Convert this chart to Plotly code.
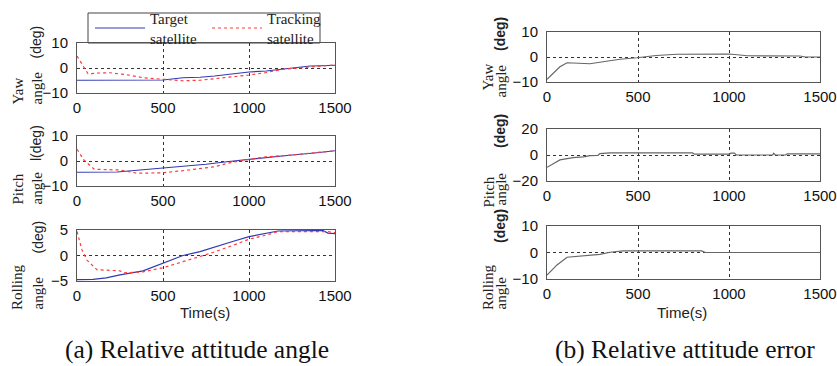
import plotly.graph_objects as go

W, H = 837, 366

# ---------------- data ----------------
# (a) Relative attitude angle
yaw_tgt_t = [0, 100, 210, 400, 500, 616, 715, 800, 907, 1000, 1100, 1198, 1300, 1355, 1420, 1500]
yaw_tgt_v = [-4.9, -4.9, -5.0, -4.9, -4.8, -3.9, -3.7, -3.2, -2.3, -1.6, -1.2, -0.5, 0.2, 0.8, 0.9, 1.1]
yaw_trk_t = [0, 29, 64, 130, 192, 300, 384, 500, 616, 715, 773, 907, 1000, 1100, 1198, 1355, 1500]
yaw_trk_v = [4.8, 1.5, -2.3, -2.0, -1.9, -2.8, -3.9, -4.5, -5.1, -4.9, -4.5, -3.6, -2.8, -1.8, -0.5, 0.4, 1.2]

pitch_tgt_t = [0, 232, 350, 500, 620, 750, 870, 1000, 1100, 1250, 1380, 1500]
pitch_tgt_v = [-4.5, -4.4, -3.7, -2.9, -2.1, -1.3, -0.3, 0.7, 1.5, 2.4, 3.2, 4.1]
pitch_trk_t = [0, 40, 100, 250, 350, 500, 650, 800, 900, 1000, 1100, 1250, 1380, 1500]
pitch_trk_v = [4.7, 0.4, -3.3, -3.6, -4.9, -4.7, -3.6, -2.3, -0.5, 0.7, 1.7, 2.4, 3.2, 4.1]

roll_tgt_t = [0, 93, 170, 250, 384, 500, 616, 715, 773, 900, 1000, 1100, 1169, 1430, 1459, 1500]
roll_tgt_v = [-4.75, -4.7, -4.4, -3.8, -3.0, -1.5, 0.0, 0.75, 1.4, 2.7, 3.7, 4.3, 4.8, 4.9, 4.4, 4.3]
roll_trk_t = [0, 29, 58, 116, 250, 267, 384, 500, 616, 773, 900, 1000, 1100, 1169, 1450, 1500]
roll_trk_v = [4.7, 1.1, -0.9, -2.8, -3.0, -3.4, -3.2, -2.4, -1.2, 0.4, 1.9, 3.2, 4.0, 4.7, 4.7, 4.5]

# (b) Relative attitude error
yaw_err_t = [0, 33, 71, 110, 236, 308, 401, 494, 600, 714, 1000, 1060, 1099, 1390, 1420, 1500]
yaw_err_v = [-8.9, -6.5, -3.9, -2.3, -2.7, -1.9, -0.9, -0.3, 0.6, 1.1, 1.2, 0.8, 0.5, 0.4, 0.0, 0.0]

pitch_err_t = [0, 40, 71, 143, 200, 236, 280, 290, 346, 800, 810, 1000, 1010, 1030, 1040, 1240, 1245, 1255, 1310, 1320, 1500]
pitch_err_v = [-9.5, -6.5, -3.8, -2.0, -1.5, -0.5, -0.3, 1.0, 1.6, 1.6, 0.6, 0.6, 1.4, 1.4, 0.0, 0.0, 1.4, 0.0, 0.0, 0.8, 0.8]

roll_err_t = [0, 55, 110, 236, 291, 346, 418, 850, 870, 1500]
roll_err_v = [-8.5, -4.7, -1.8, -1.2, -0.7, 0.1, 0.6, 0.6, 0.0, 0.0]

x_ticks = [0, 500, 1000, 1500]
names = ["Target<br>satellite", "Tracking<br>satellite"]
captions = ["(a) Relative attitude angle", "(b) Relative attitude error"]

# ---------------- layout helpers ----------------
def px_x(x):
    return x / W

def px_y(y):
    return 1 - y / H

SANS = "Liberation Sans, Arial, sans-serif"
SERIF = "Liberation Serif, Times New Roman, serif"

BLUE = "#3239b4"
RED = "#ff3b3b"
GRAY = "#555555"

panels = [
    # (axis id, x0, x1, top px, bottom px, yrange, ytickvals)
    ("", 77, 335, 43, 93, [-10, 10], [-10, 0, 10]),
    ("2", 77, 335, 136, 186, [-10, 10], [-10, 0, 10]),
    ("3", 77, 335, 230, 281, [-5, 5], [-5, 0, 5]),
    ("4", 547, 820, 32, 82, [-10, 10], [-10, 0, 10]),
    ("5", 547, 820, 129, 181, [-20, 20], [-20, 0, 20]),
    ("6", 547, 820, 226, 279, [-10, 10], [-10, 0, 10]),
]

fig = go.Figure()

layout = dict(
    width=W, height=H,
    margin=dict(l=0, r=0, t=0, b=0, autoexpand=False),
    paper_bgcolor="white", plot_bgcolor="white",
    showlegend=True,
)

for aid, x0, x1, yt, yb, yr, yt_vals in panels:
    xa = "xaxis" + aid
    ya = "yaxis" + aid
    layout[xa] = dict(
        domain=[px_x(x0), px_x(x1)], range=[0, 1500], anchor="y" + aid,
        tickvals=x_ticks, ticks="", showline=True, mirror=True, automargin=False,
        linecolor=GRAY, linewidth=1, showgrid=True, gridcolor="#333333",
        griddash="dot", gridwidth=1, zeroline=False,
        tickfont=dict(family=SANS, size=15, color="#111"),
        ticklabelstandoff=1,
    )
    layout[ya] = dict(
        domain=[px_y(yb), px_y(yt)], range=yr, anchor="x" + aid,
        tickvals=yt_vals, ticks="", showline=True, mirror=True, automargin=False,
        linecolor=GRAY, linewidth=1, showgrid=True, gridcolor="#333333",
        griddash="dot", gridwidth=1, zeroline=False,
        tickfont=dict(family=SANS, size=15, color="#111"),
        ticklabelstandoff=5,
    )

left_data = [
    ("", yaw_tgt_t, yaw_tgt_v, yaw_trk_t, yaw_trk_v),
    ("2", pitch_tgt_t, pitch_tgt_v, pitch_trk_t, pitch_trk_v),
    ("3", roll_tgt_t, roll_tgt_v, roll_trk_t, roll_trk_v),
]
for i, (aid, tt, tv, rt, rv) in enumerate(left_data):
    fig.add_trace(go.Scatter(
        x=tt, y=tv, mode="lines", line=dict(color=BLUE, width=1.2),
        xaxis="x" + aid, yaxis="y" + aid, name=names[0], showlegend=(i == 0),
    ))
    fig.add_trace(go.Scatter(
        x=rt, y=rv, mode="lines", line=dict(color=RED, width=1.2, dash="dot"),
        xaxis="x" + aid, yaxis="y" + aid, name=names[1], showlegend=(i == 0),
    ))

right_data = [("4", yaw_err_t, yaw_err_v), ("5", pitch_err_t, pitch_err_v), ("6", roll_err_t, roll_err_v)]
for aid, t, v in right_data:
    fig.add_trace(go.Scatter(
        x=t, y=v, mode="lines", line=dict(color="#666666", width=1.2),
        xaxis="x" + aid, yaxis="y" + aid, showlegend=False,
    ))

layout["legend"] = dict(
    orientation="h", x=px_x(90), y=px_y(2), xanchor="left", yanchor="top",
    borderwidth=0, bgcolor="rgba(255,255,255,0)",
    font=dict(family=SERIF, size=15, color="#222"),
    itemwidth=50, tracegroupgap=0, entrywidth=52,
)

# legend frame
layout["shapes"] = [dict(
    type="rect", xref="paper", yref="paper",
    x0=px_x(88), x1=px_x(320), y0=px_y(43), y1=px_y(13),
    line=dict(color="#444", width=1), fillcolor="rgba(0,0,0,0)", layer="below",
)]

annotations = []

def rot(text, xc, ybottom, family, size=14):
    annotations.append(dict(
        text=text, x=px_x(xc), y=px_y(ybottom), xref="paper", yref="paper",
        xanchor="center", yanchor="bottom", textangle=-90, showarrow=False,
        font=dict(family=family, size=size, color="#222"),
    ))

# left y labels
rot("Yaw", 17, 107, SERIF, 15)
rot("angle", 36, 107, SERIF, 15)
rot("(deg)", 36, 61, SANS, 14)
rot("Pitch", 17, 207, SERIF, 15)
rot("angle", 36, 207, SERIF, 15)
rot("l(deg)", 36, 163, SANS, 14)
rot("Rolling", 17, 312, SERIF, 15)
rot("angle", 37, 312, SERIF, 15)
rot("(deg)", 37, 256, SANS, 14)
# right y labels
rot("Yaw", 488, 93, SERIF, 15)
rot("angle", 500, 100, SERIF, 15)
rot("<b>(deg)</b>", 500, 53, SANS, 14)
rot("Pitch", 488, 210, SERIF, 15)
rot("angle", 500, 208, SERIF, 15)
rot("<b>(deg)</b>", 500, 150, SANS, 14)
rot("Rolling", 488, 312, SERIF, 15)
rot("angle", 500, 312, SERIF, 15)
rot("<b>(deg)</b>", 500, 245, SANS, 14)

for xc in (205, 682):
    annotations.append(dict(
        text="Time(s)", x=px_x(xc), y=px_y(312), xref="paper", yref="paper",
        xanchor="center", yanchor="middle", showarrow=False,
        font=dict(family=SANS, size=15, color="#222"),
    ))

for xc, cap in zip((197, 685), captions):
    annotations.append(dict(
        text=cap, x=px_x(xc), y=px_y(349), xref="paper", yref="paper",
        xanchor="center", yanchor="middle", showarrow=False,
        font=dict(family=SERIF, size=25.5, color="#111"),
    ))

layout["annotations"] = annotations
fig.update_layout(**layout)
fig.write_html(
    "out.html",
    config={"displayModeBar": False},
    post_script="document.body.style.margin='0';document.body.style.padding='0';",
)
